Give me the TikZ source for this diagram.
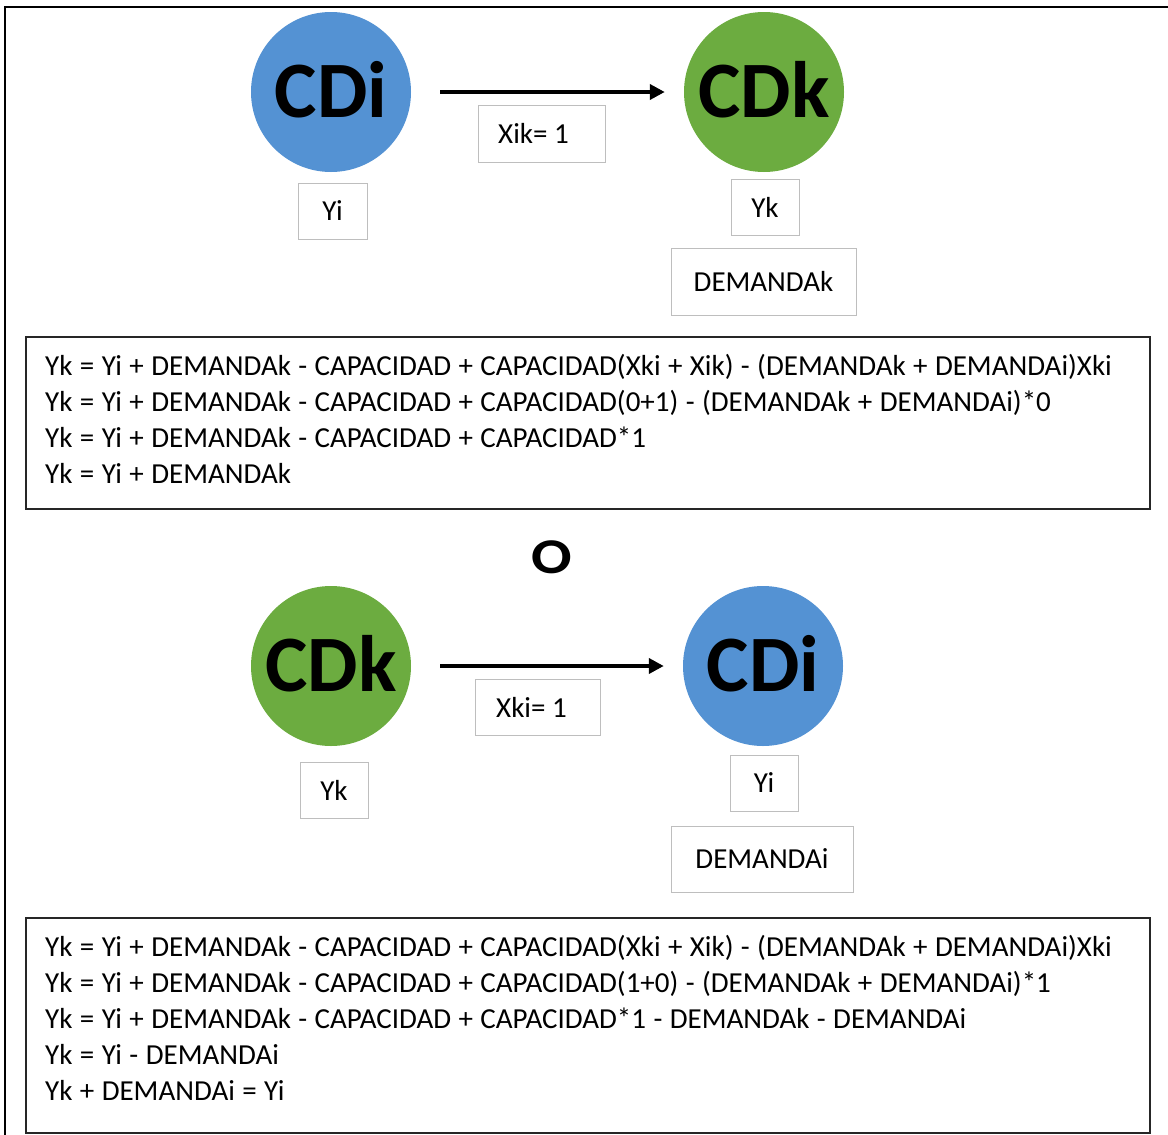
\documentclass[tikz,border=0pt]{standalone}
\usepackage{fontspec}
\setmainfont{Carlito}
\newfontfamily\eqfont[WordSpace=1.13]{Carlito}
\newfontfamily\widebold[FakeStretch=1.2]{Carlito Bold}
\usetikzlibrary{arrows.meta}
\definecolor{cdblue}{RGB}{84,146,211}
\definecolor{cdgreen}{RGB}{108,172,64}
\definecolor{boxgray}{RGB}{190,190,190}
\begin{document}
\begin{tikzpicture}[x=1pt,y=-1pt,
  center/.style={circle,minimum size=160pt,inner sep=0pt,
    font=\fontsize{80}{80}\selectfont\bfseries},
  varbox/.style={draw=boxgray,line width=0.8pt,inner sep=0pt,
    font=\fontsize{29}{32}\selectfont},
  eqframe/.style={draw=black!85,line width=1.6pt,inner sep=0pt},
  eqtext/.style={inner sep=0pt,anchor=west,align=left,
    font=\eqfont\fontsize{29}{36}\selectfont},
  flow/.style={line width=4pt,-{Triangle[length=15pt,width=15pt]}}]
\useasboundingbox (0,0) rectangle (1168,1135);
% outer frame
\draw[line width=2pt] (5,1140) -- (5,7) -- (1175,7);

% first case: CDi -> CDk
\node[center,fill=cdblue] (cdiA) at (331,92) {\raisebox{5pt}{CDi}};
\node[center,fill=cdgreen] (cdkA) at (764,92) {\raisebox{5pt}{CDk}};
\draw[flow,shorten <=29pt,shorten >=19pt] (cdiA) -- (cdkA);
\node[varbox,minimum width=127pt,minimum height=57pt] (xik) at (541.5,133.5) {\hspace*{-16pt}Xik= 1};
\node[varbox,minimum width=69pt,minimum height=56pt] (yiA) at (332.5,211) {Yi};
\node[varbox,minimum width=68pt,minimum height=56pt] (ykA) at (765,207) {Yk};
\node[varbox,minimum width=185pt,minimum height=67pt] (demk) at (763.5,281.5) {DEMANDAk};
\node[eqframe,minimum width=1124pt,minimum height=172pt] (eqA) at (588,423) {};
\node[eqtext] (eqAtext) at (45,418.5) {%
Yk = Yi + DEMANDAk - CAPACIDAD + CAPACIDAD(Xki + Xik) - (DEMANDAk + DEMANDAi)Xki\\
Yk = Yi + DEMANDAk - CAPACIDAD + CAPACIDAD(0+1) - (DEMANDAk + DEMANDAi)*0\\
Yk = Yi + DEMANDAk - CAPACIDAD + CAPACIDAD*1\\
Yk = Yi + DEMANDAk};

\node[font=\widebold\fontsize{50}{50}\selectfont] (alt) at (552,557) {O};

% second case: CDk -> CDi
\node[center,fill=cdgreen] (cdkB) at (331,666) {\raisebox{5pt}{CDk}};
\node[center,fill=cdblue] (cdiB) at (763,666) {\raisebox{5pt}{CDi}};
\draw[flow,shorten <=29pt,shorten >=19pt] (cdkB) -- (cdiB);
\node[varbox,minimum width=125pt,minimum height=56pt] (xki) at (537.5,707) {\hspace*{-12pt}Xki= 1};
\node[varbox,minimum width=68pt,minimum height=56pt] (ykB) at (334,790) {Yk};
\node[varbox,minimum width=68pt,minimum height=56pt] (yiB) at (764,783) {Yi};
\node[varbox,minimum width=182pt,minimum height=66pt] (demi) at (762,859) {DEMANDAi};
\node[eqframe,minimum width=1124pt,minimum height=215pt] (eqB) at (588,1025.5) {};
\node[eqtext] (eqBtext) at (45,1017.5) {%
Yk = Yi + DEMANDAk - CAPACIDAD + CAPACIDAD(Xki + Xik) - (DEMANDAk + DEMANDAi)Xki\\
Yk = Yi + DEMANDAk - CAPACIDAD + CAPACIDAD(1+0) - (DEMANDAk + DEMANDAi)*1\\
Yk = Yi + DEMANDAk - CAPACIDAD + CAPACIDAD*1 - DEMANDAk - DEMANDAi\\
Yk = Yi - DEMANDAi\\
Yk + DEMANDAi = Yi};
\end{tikzpicture}
\end{document}
